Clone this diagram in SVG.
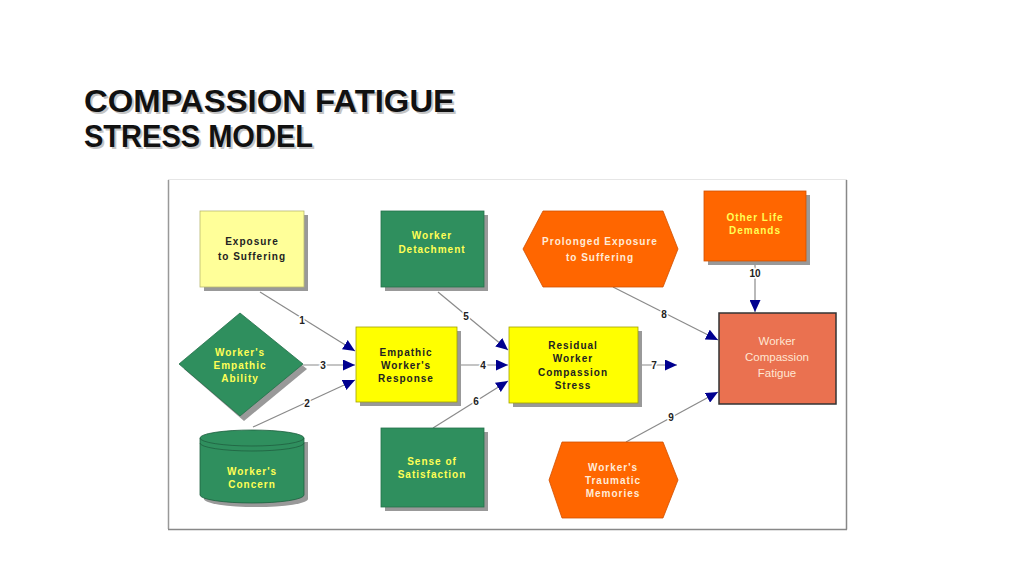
<svg xmlns="http://www.w3.org/2000/svg" width="1024" height="576" viewBox="0 0 1024 576">
<defs>
<marker id="arr" markerUnits="userSpaceOnUse" markerWidth="13" markerHeight="11" refX="12" refY="5.5" orient="auto">
<path d="M0,0 L12,5.5 L0,11 Z" fill="#000090"/>
</marker>
</defs>
<style>
.title{font-family:"Liberation Sans",Arial,sans-serif;font-weight:bold;font-size:31px;fill:#111}
.tshadow{font-family:"Liberation Sans",Arial,sans-serif;font-weight:bold;font-size:31px;fill:#c4c4c4}
.lbl{font-family:"Liberation Sans",Arial,sans-serif;font-weight:bold;font-size:10px;letter-spacing:1px;text-anchor:middle;dominant-baseline:central}
.dark{fill:#222}
.yel{fill:#FFFF55}
.wht{fill:#FFEBD8}
.fat{font-family:"Liberation Sans",Arial,sans-serif;font-size:11.5px;text-anchor:middle;dominant-baseline:central;fill:#FFE6D2}
.shadow{fill:#999}
.conn{stroke:#8a8a8a;stroke-width:1.2;fill:none;marker-end:url(#arr)}
.num{font-family:"Liberation Sans",Arial,sans-serif;font-weight:bold;font-size:10px;fill:#222;text-anchor:middle;dominant-baseline:central;stroke:#fff;stroke-width:3;paint-order:stroke}
</style>
<rect width="1024" height="576" fill="#fff"/>
<g id="title">
<text class="tshadow" x="86" y="114" textLength="371" lengthAdjust="spacingAndGlyphs">COMPASSION FATIGUE</text>
<text class="tshadow" x="86" y="149" textLength="229" lengthAdjust="spacingAndGlyphs">STRESS MODEL</text>
<text class="title" x="84" y="112" textLength="371" lengthAdjust="spacingAndGlyphs">COMPASSION FATIGUE</text>
<text class="title" x="84" y="147" textLength="229" lengthAdjust="spacingAndGlyphs">STRESS MODEL</text>
</g>
<g id="frame">
<rect x="168.5" y="179.5" width="678" height="350" fill="#fff" stroke="#e6e6e6"/>
<line x1="168.5" y1="180" x2="168.5" y2="529" stroke="#999" stroke-width="1.5"/>
<line x1="846.5" y1="180" x2="846.5" y2="529.5" stroke="#888" stroke-width="1.5"/>
<line x1="168" y1="529.5" x2="847" y2="529.5" stroke="#888" stroke-width="1.5"/>
</g>
<g id="connectors">
<line class="conn" x1="260" y1="292" x2="355" y2="351"/>
<line class="conn" x1="303" y1="365" x2="355" y2="365"/>
<line class="conn" x1="253" y1="427" x2="355" y2="380"/>
<line class="conn" x1="457" y1="365" x2="508" y2="365"/>
<line class="conn" x1="438" y1="292" x2="508" y2="350"/>
<line class="conn" x1="433" y1="428" x2="508" y2="381"/>
<line class="conn" x1="639" y1="365" x2="677" y2="365"/>
<line class="conn" x1="613" y1="287" x2="718" y2="340"/>
<line class="conn" x1="626" y1="442" x2="718" y2="392"/>
<line class="conn" x1="755" y1="265" x2="755" y2="312"/>
<text class="num" x="302" y="320">1</text>
<text class="num" x="307" y="403">2</text>
<text class="num" x="323" y="365">3</text>
<text class="num" x="483" y="365">4</text>
<text class="num" x="466" y="316">5</text>
<text class="num" x="476" y="401">6</text>
<text class="num" x="654" y="365">7</text>
<text class="num" x="664" y="314">8</text>
<text class="num" x="671" y="417">9</text>
<text class="num" x="755" y="273">10</text>
</g>
<g id="exposure">
<rect class="shadow" x="204" y="215" width="104" height="76"/>
<rect x="200" y="211" width="104" height="76" fill="#FFFF99" stroke="#b8b870" stroke-width="0.8"/>
<text class="lbl dark" x="252" y="241">Exposure</text>
<text class="lbl dark" x="252" y="256">to Suffering</text>
</g>
<g id="detachment">
<rect class="shadow" x="385" y="215" width="103" height="76"/>
<rect x="381" y="211" width="103" height="76" fill="#2F8F5E" stroke="#24704a" stroke-width="0.8"/>
<text class="lbl yel" x="432" y="235">Worker</text>
<text class="lbl yel" x="432" y="249">Detachment</text>
</g>
<g id="prolonged">
<polygon points="523,249 543,211 663,211 678,249 663,287 543,287" fill="#FF6600" stroke="#d05000" stroke-width="0.8"/>
<text class="lbl wht" x="600" y="241">Prolonged Exposure</text>
<text class="lbl wht" x="600" y="257">to Suffering</text>
</g>
<g id="otherlife">
<rect class="shadow" x="708" y="195" width="102" height="70"/>
<rect x="704" y="191" width="102" height="70" fill="#FF6600" stroke="#d05000" stroke-width="0.8"/>
<text class="lbl yel" x="755" y="217">Other Life</text>
<text class="lbl yel" x="755" y="230">Demands</text>
</g>
<g id="ability">
<polygon points="244,318 307,369 244,421 184,369" class="shadow"/>
<polygon points="240,313 303,364 240,416 179,364" fill="#2F8F5E" stroke="#24704a" stroke-width="0.8"/>
<text class="lbl yel" x="240" y="352">Worker's</text>
<text class="lbl yel" x="240" y="365">Empathic</text>
<text class="lbl yel" x="240" y="378">Ability</text>
</g>
<g id="concern">
<path d="M204,442 L204,499 A52,8 0 0 0 308,499 L308,442 Z" class="shadow"/>
<path d="M200,438 L200,495 A52,8 0 0 0 304,495 L304,438 A52,8 0 0 0 200,438 Z" fill="#2F8F5E" stroke="#1f5f40" stroke-width="0.8"/>
<path d="M200,438 A52,8 0 0 0 304,438" fill="none" stroke="#1f5f40" stroke-width="0.8"/>
<path d="M200,443 A52,8 0 0 0 304,443" fill="none" stroke="#1f5f40" stroke-width="0.8"/>
<text class="lbl yel" x="252" y="471">Worker's</text>
<text class="lbl yel" x="252" y="484">Concern</text>
</g>
<g id="response">
<rect class="shadow" x="360" y="331" width="101" height="75"/>
<rect x="356" y="327" width="101" height="75" fill="#FFFF00" stroke="#a0a000" stroke-width="0.8"/>
<text class="lbl dark" x="406" y="352">Empathic</text>
<text class="lbl dark" x="406" y="365">Worker's</text>
<text class="lbl dark" x="406" y="378">Response</text>
</g>
<g id="satisfaction">
<rect class="shadow" x="385" y="432" width="103" height="79"/>
<rect x="381" y="428" width="103" height="79" fill="#2F8F5E" stroke="#24704a" stroke-width="0.8"/>
<text class="lbl yel" x="432" y="461">Sense of</text>
<text class="lbl yel" x="432" y="474">Satisfaction</text>
</g>
<g id="residual">
<rect class="shadow" x="513" y="331" width="129" height="76"/>
<rect x="509" y="327" width="129" height="76" fill="#FFFF00" stroke="#a0a000" stroke-width="0.8"/>
<text class="lbl dark" x="573" y="345">Residual</text>
<text class="lbl dark" x="573" y="358">Worker</text>
<text class="lbl dark" x="573" y="372">Compassion</text>
<text class="lbl dark" x="573" y="385">Stress</text>
</g>
<g id="fatigue">
<rect x="719" y="313" width="117" height="91" fill="#EA7150" stroke="#333" stroke-width="1.5"/>
<text class="fat" x="777" y="341">Worker</text>
<text class="fat" x="777" y="357">Compassion</text>
<text class="fat" x="777" y="373">Fatigue</text>
</g>
<g id="memories">
<polygon points="549,480 562,442 663,442 678,480 663,518 562,518" fill="#FF6600" stroke="#d05000" stroke-width="0.8"/>
<text class="lbl wht" x="613" y="467">Worker's</text>
<text class="lbl wht" x="613" y="480">Traumatic</text>
<text class="lbl wht" x="613" y="493">Memories</text>
</g>
</svg>
